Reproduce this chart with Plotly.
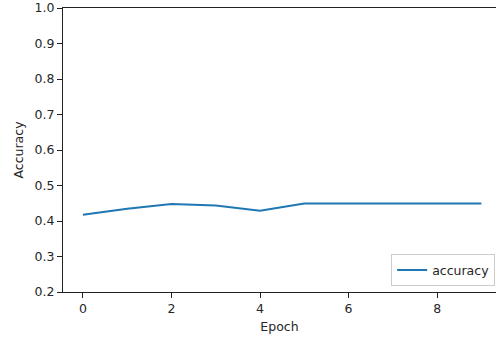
import plotly.graph_objects as go

epochs = [0, 1, 2, 3, 4, 5, 6, 7, 8, 9]
accuracy = [0.4176, 0.4344, 0.4477, 0.4437, 0.4288, 0.4494, 0.4494, 0.4494, 0.4494, 0.4494]
y_ticks = [0.2, 0.3, 0.4, 0.5, 0.6, 0.7, 0.8, 0.9, 1.0]
x_ticks = [0, 2, 4, 6, 8]

FONT = "DejaVu Sans"
TXT = "#262626"

fig = go.Figure()
fig.add_trace(go.Scatter(
    x=epochs, y=accuracy, mode="lines", name="accuracy",
    line=dict(color="#1f77b4", width=2),
))

fig.update_layout(
    width=496, height=337,
    margin=dict(l=63, r=0, t=8, b=45),
    paper_bgcolor="white", plot_bgcolor="white",
    font=dict(family=FONT, size=12.5, color=TXT),
    showlegend=True,
    legend=dict(
        x=0.998, y=0.02, xanchor="right", yanchor="bottom",
        bgcolor="white", bordercolor="#cccccc", borderwidth=1,
        font=dict(family=FONT, size=12.5, color=TXT),
    ),
    xaxis=dict(
        range=[-0.45, 9.33], tickvals=x_ticks, ticktext=[str(v) for v in x_ticks],
        showgrid=False, zeroline=False,
        showline=True, linecolor="#222222", linewidth=1, mirror=True,
        ticks="outside", ticklen=5, tickcolor="#222222", tickwidth=1,
        tickfont=dict(family=FONT, size=12.5, color=TXT),
        title=dict(text="Epoch", standoff=7, font=dict(family=FONT, size=12.5, color=TXT)),
        automargin=False,
    ),
    yaxis=dict(
        range=[0.2, 1.0], tickvals=y_ticks, ticktext=[f"{v:.1f}" for v in y_ticks],
        showgrid=False, zeroline=False,
        showline=True, linecolor="#222222", linewidth=1, mirror=False,
        ticks="outside", ticklen=5, tickcolor="#222222", tickwidth=1,
        tickfont=dict(family=FONT, size=12.5, color=TXT),
        title=dict(text="Accuracy", standoff=8, font=dict(family=FONT, size=12.5, color=TXT)),
        automargin=False,
    ),
)

fig.write_html("out.html")
